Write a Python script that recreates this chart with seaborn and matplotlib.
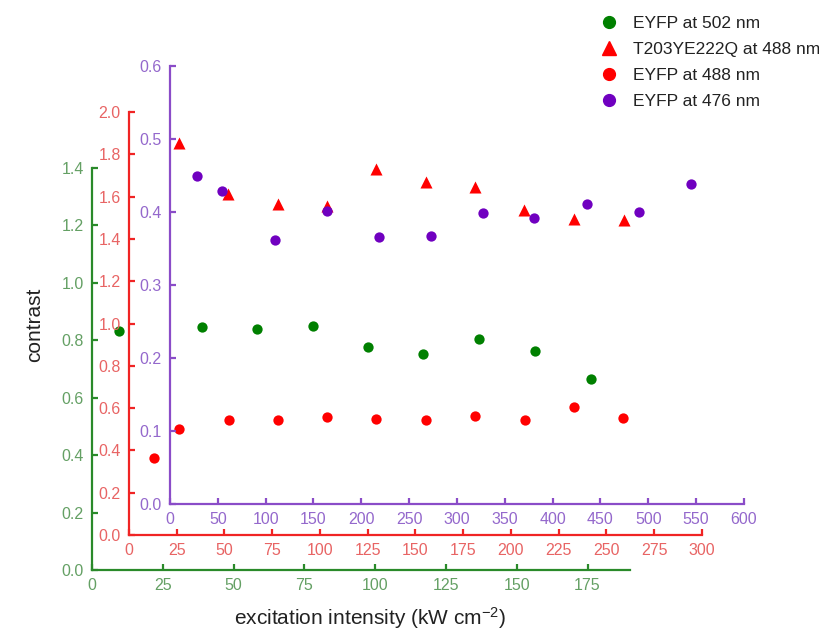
import numpy as np
import matplotlib
matplotlib.use("Agg")
import matplotlib.pyplot as plt
from matplotlib.lines import Line2D
import seaborn as sns

# EYFP at 502 nm (green scale)
eyfp502_x = [9.5, 38.9, 58.3, 78.1, 97.6, 117.0, 136.8, 156.6, 176.1]
eyfp502_y = [0.833, 0.847, 0.840, 0.850, 0.777, 0.753, 0.805, 0.763, 0.666]

# T203YE222Q at 488 nm (red scale)
t203_x = [26.2, 51.8, 78.0, 103.7, 129.3, 155.5, 181.2, 206.8, 233.0, 259.2]
t203_y = [1.853, 1.612, 1.565, 1.556, 1.730, 1.669, 1.645, 1.537, 1.494, 1.489]

# EYFP at 488 nm (red scale)
eyfp488_x = [13.1, 26.2, 52.4, 78.0, 103.7, 129.3, 155.5, 181.2, 207.3, 233.0, 258.6]
eyfp488_y = [0.364, 0.501, 0.544, 0.544, 0.558, 0.548, 0.544, 0.563, 0.544, 0.605, 0.553]

# EYFP at 476 nm (purple scale)
eyfp476_x = [28.2, 54.4, 109.8, 164.2, 218.6, 273.0, 327.4, 380.8, 436.2, 490.6, 545.0]
eyfp476_y = [0.449, 0.429, 0.361, 0.402, 0.366, 0.367, 0.398, 0.392, 0.411, 0.400, 0.439]

# Tick values of the three nested scales
green_xticks = [0, 25, 50, 75, 100, 125, 150, 175]
green_yticks = [0.0, 0.2, 0.4, 0.6, 0.8, 1.0, 1.2, 1.4]
red_xticks = [0, 25, 50, 75, 100, 125, 150, 175, 200, 225, 250, 275, 300]
red_yticks = [0.0, 0.2, 0.4, 0.6, 0.8, 1.0, 1.2, 1.4, 1.6, 1.8, 2.0]
purple_xticks = [0, 50, 100, 150, 200, 250, 300, 350, 400, 450, 500, 550, 600]
purple_yticks = [0.0, 0.1, 0.2, 0.3, 0.4, 0.5, 0.6]

legend_labels = ["EYFP at 502 nm", "T203YE222Q at 488 nm", "EYFP at 488 nm", "EYFP at 476 nm"]

sns.set_theme(style="white")
plt.rcParams["font.family"] = ["Liberation Sans", "DejaVu Sans"]
plt.rcParams["mathtext.fontset"] = "custom"
plt.rcParams["mathtext.rm"] = "Liberation Sans"
plt.rcParams["mathtext.it"] = "Liberation Sans"

GREEN, GREEN_TXT = "#2a8a2a", "#64a064"
RED, RED_TXT = "#f02424", "#e86464"
PURPLE, PURPLE_TXT = "#8a4cc8", "#9468cc"
GREEN_M, RED_M, PURPLE_M = "#008000", "#ff0000", "#7000c0"

W, H = 820, 631
fig = plt.figure(figsize=(W / 100, H / 100), dpi=100)


def make_axes(rect_px, spine_col, txt_col, xlim, ylim, xticks, yticks, xfmt, yfmt):
    left, bottom, right, top = rect_px
    ax = fig.add_axes([left / W, 1 - bottom / H, (right - left) / W, (bottom - top) / H])
    ax.set_facecolor("none")
    ax.set_xlim(*xlim)
    ax.set_ylim(*ylim)
    for side in ("top", "right"):
        ax.spines[side].set_visible(False)
    for side in ("left", "bottom"):
        ax.spines[side].set_color(spine_col)
        ax.spines[side].set_linewidth(1.6)
    ax.set_xticks(xticks)
    ax.set_yticks(yticks)
    ax.set_xticklabels([xfmt.format(v) for v in xticks])
    ax.set_yticklabels([yfmt.format(v) for v in yticks])
    ax.tick_params(axis="both", direction="in", length=4, width=1.6, color=spine_col,
                   labelcolor=txt_col, labelsize=11.5, pad=6,
                   left=True, bottom=True)
    ax.grid(False)
    return ax


ax_g = make_axes((92, 570, 630, 168), GREEN, GREEN_TXT, (0, 190), (0, 1.4),
                 green_xticks, green_yticks, "{:d}", "{:.1f}")
ax_r = make_axes((129, 535, 702, 112), RED, RED_TXT, (0, 300), (0, 2.0),
                 red_xticks, red_yticks, "{:d}", "{:.1f}")
ax_p = make_axes((170, 504, 744, 66), PURPLE, PURPLE_TXT, (0, 600), (0, 0.6),
                 purple_xticks, purple_yticks, "{:d}", "{:.1f}")

sns.scatterplot(x=eyfp502_x, y=eyfp502_y, ax=ax_g, color=GREEN_M, marker="o",
                s=55, linewidth=0, legend=False, clip_on=False)
sns.scatterplot(x=eyfp488_x, y=eyfp488_y, ax=ax_r, color=RED_M, marker="o",
                s=55, linewidth=0, legend=False, clip_on=False)
sns.scatterplot(x=t203_x, y=t203_y, ax=ax_r, color=RED_M, marker="^",
                s=75, linewidth=0, legend=False, clip_on=False)
sns.scatterplot(x=eyfp476_x, y=eyfp476_y, ax=ax_p, color=PURPLE_M, marker="o",
                s=55, linewidth=0, legend=False, clip_on=False)

for ax in (ax_g, ax_r, ax_p):
    ax.set_xlabel("")
    ax.set_ylabel("")

fig.text(35 / W, 1 - 325 / H, "contrast", rotation=90, ha="center", va="center",
         fontsize=15, color="#222222")
fig.text(370 / W, 1 - 618 / H, "excitation intensity (kW cm$^{-2}$)", ha="center",
         va="center", fontsize=15, color="#222222")

handles = [
    Line2D([], [], linestyle="none", marker="o", color=GREEN_M, markersize=8.5),
    Line2D([], [], linestyle="none", marker="^", color=RED_M, markersize=10.5),
    Line2D([], [], linestyle="none", marker="o", color=RED_M, markersize=8.5),
    Line2D([], [], linestyle="none", marker="o", color=PURPLE_M, markersize=8.5),
]
fig.legend(handles, legend_labels, loc="upper left", bbox_to_anchor=(600 / W, 1 - 16 / H),
           frameon=False, fontsize=12.5, handlelength=1.0, handletextpad=0.9,
           labelspacing=0.62, borderpad=0, borderaxespad=0, labelcolor="#222222")

fig.savefig("out.png", dpi=100)
